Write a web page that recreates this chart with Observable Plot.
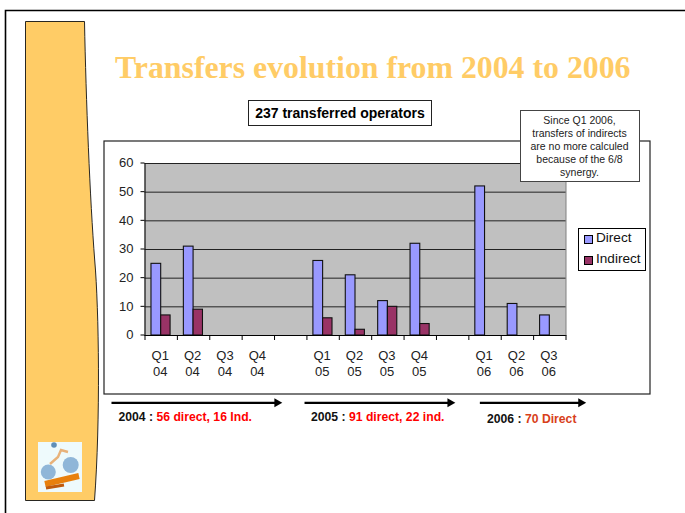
<!DOCTYPE html>
<html><head><meta charset="utf-8">
<script src="https://cdn.jsdelivr.net/npm/d3@7"></script>
<script src="https://cdn.jsdelivr.net/npm/@observablehq/plot@0.6"></script>
<style>
html,body{margin:0;padding:0;background:#fff;overflow:hidden}
#page{position:relative;width:685px;height:513px;font-family:"Liberation Sans",Arial,sans-serif;overflow:hidden}
#page>*{position:absolute}
#decor{left:0;top:0;z-index:0}
#chart{left:0;top:0;z-index:1}
#chart svg{display:block;background:transparent}
.title{left:115px;top:50px;font:bold 31.8px "Liberation Serif",serif;color:#ffcc66;white-space:nowrap;z-index:2}
.box{background:#fff;box-sizing:border-box;z-index:2}
.sub{left:248px;top:100px;width:184px;height:25.5px;border:1px solid #222;font:bold 14px/24px "Liberation Sans",sans-serif;text-align:center;color:#000}
.note{left:519.5px;top:110px;width:120px;height:72px;border:1px solid #444;font:10.5px/13px "Liberation Sans",sans-serif;text-align:center;color:#222;padding-top:3px}
.legend{left:578px;top:228px;width:68px;height:43px;border:1px solid #000;font:13.6px/21px "Liberation Sans",sans-serif;color:#111}
.legend i{position:absolute;left:5px;width:7px;height:7px;border:1px solid #000}
.legend span{position:absolute;left:17px}
.yr{font:bold 12.2px "Liberation Sans",sans-serif;color:#111;white-space:nowrap;z-index:2}
.yr b{color:#ff0000}
</style></head>
<body><div id="page">
<svg id="decor" width="685" height="513">
  <defs><filter id="soft"><feGaussianBlur stdDeviation="0.7"/></filter></defs>
  <path d="M5.5 513V10.5H685" fill="none" stroke="#000" stroke-width="1.6"/>
  <path d="M25.5 21.5H84.5C86 100 90 200 94.7 260C99 310 100.5 420 94.5 500.5H25.5Z" fill="#ffcc66" stroke="#111" stroke-width="0.9"/>
  <rect x="38" y="442" width="44" height="50" fill="#eefafc"/>
  <g filter="url(#soft)">
    <circle cx="48.3" cy="472" r="7.5" fill="#8fb6d8"/>
    <circle cx="70.7" cy="465" r="8" fill="#8fb6d8"/>
    <circle cx="54" cy="445" r="2.8" fill="#5f8fb8"/>
    <path d="M50 464L58 457L61 450L68 452" fill="none" stroke="#e8b27a" stroke-width="2.4"/>
    <path d="M45 484L79 476" fill="none" stroke="#e8800f" stroke-width="6"/>
    <path d="M46 488L64 485" fill="none" stroke="#c05a08" stroke-width="3"/>
  </g>
</svg>
<div id="chart"></div>
<div class="title">Transfers evolution from 2004 to 2006</div>
<div class="box sub">237 transferred operators</div>
<div class="box note">Since Q1 2006,<br>transfers of indirects<br>are no more calculed<br>because of the 6/8<br>synergy.</div>
<div class="box legend"><i style="top:6px;background:#9999ff"></i><span style="top:-2px">Direct</span><i style="top:27px;background:#993366"></i><span style="top:19px">Indirect</span></div>
<div class="yr" style="left:118.5px;top:410px">2004 : <b>56 direct, 16 Ind.</b></div>
<div class="yr" style="left:311px;top:410px">2005 : <b>91 direct, 22 ind.</b></div>
<div class="yr" style="left:487px;top:412px">2006 : <b style="color:#d8401a">70 Direct</b></div>
</div>
<script>
const categories = ["Q1\n04","Q2\n04","Q3\n04","Q4\n04","","Q1\n05","Q2\n05","Q3\n05","Q4\n05","","Q1\n06","Q2\n06","Q3\n06"];
const direct   = [25,31,0,0,0,26,21,12,32,0,52,11,7];
const indirect = [7,9,0,0,0,6,2,10,4,0,0,0,0];
const yTicks = [0,10,20,30,40,50,60];
const arrowStart = [-1.035,4.926,10.34];
const arrowEnd = [4.246,9.59,13.63];
const arrowLevel = -23.47;

const positions = categories.map((_, i) => i);
const directRows = positions.filter(i => direct[i] > 0).map(i => ({i, v: direct[i]}));
const indirectRows = positions.filter(i => indirect[i] > 0).map(i => ({i, v: indirect[i]}));
const arrowRows = arrowStart.map((s, k) => ({s, e: arrowEnd[k]}));

const svg = Plot.plot({
  width: 685, height: 513,
  marginLeft: 144.5, marginRight: 119.5, marginTop: 163, marginBottom: 178,
  style: {fontFamily: '"Liberation Sans",sans-serif', fontSize: "13px", color: "#222", background: "transparent", overflow: "visible"},
  x: {domain: [0, categories.length], label: null},
  y: {domain: [0, 60], label: null},
  marks: [
    Plot.frame({fill: "#c0c0c0", stroke: "#808080", strokeWidth: 1}),
    Plot.ruleY(yTicks, {stroke: "#222", strokeWidth: 1}),
    Plot.rectY(directRows, {x1: d => d.i + 0.2, x2: d => d.i + 0.5, y1: 0, y2: "v", fill: "#9999ff", stroke: "#111", strokeWidth: 1.1}),
    Plot.rectY(indirectRows, {x1: d => d.i + 0.5, x2: d => d.i + 0.79, y1: 0, y2: "v", fill: "#993366", stroke: "#111", strokeWidth: 1.1}),
    Plot.ruleY([0], {stroke: "#000", strokeWidth: 1.2}),
    Plot.axisY({ticks: yTicks, tickSize: 4, tickPadding: 7.5, stroke: "#000", label: null, tickFormat: d => d, fontSize: 13, dy: -0.5}),
    Plot.ruleX([0], {stroke: "#111"}),
    Plot.axisX({ticks: d3.range(categories.length + 1), tickSize: 5, tickFormat: () => "", label: null, stroke: "#000"}),
    Plot.text(positions, {x: i => i + 0.47, y: 0, text: i => categories[i], dy: 27, lineHeight: 1.27, fontSize: 13, fill: "#222", lineAnchor: "middle"}),
    Plot.link(arrowRows, {x1: "s", x2: d => d.e - 0.2, y1: arrowLevel, y2: arrowLevel, stroke: "#000", strokeWidth: 2.2}),
    Plot.dot(arrowRows, {x: d => d.e - 0.17, y: arrowLevel, symbol: "triangle", r: 3.4, rotate: 90, fill: "#000", stroke: "none"})
  ]
});
// chart frame, behind the plot area
const ns = "http://www.w3.org/2000/svg";
const fr = document.createElementNS(ns, "rect");
fr.setAttribute("x", 104); fr.setAttribute("y", 141); fr.setAttribute("width", 546); fr.setAttribute("height", 253);
fr.setAttribute("fill", "#fff"); fr.setAttribute("stroke", "#222"); fr.setAttribute("stroke-width", 1.2);
svg.insertBefore(fr, svg.firstChild);
document.getElementById("chart").append(svg);
</script>
</body></html>
